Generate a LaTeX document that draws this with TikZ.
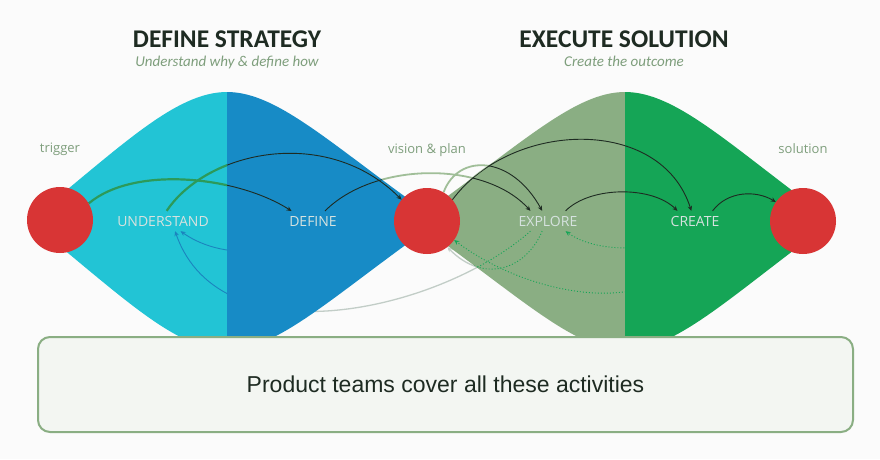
\documentclass[tikz,border=0pt]{standalone}
\usepackage{fontspec}
\setmainfont{Open Sans}
\newfontfamily\headfont{Carlito}
\newfontfamily\boxfont{Liberation Sans}
\usetikzlibrary{arrows.meta,positioning}
\definecolor{pdbg}{HTML}{FBFBFB}
\definecolor{pdcyan}{HTML}{22C4D5}
\definecolor{pdblue}{HTML}{178BC6}
\definecolor{pdsage}{HTML}{8AAE83}
\definecolor{pdgreen}{HTML}{15A556}
\definecolor{pdred}{HTML}{D83535}
\definecolor{pddark}{HTML}{1E2B22}
\definecolor{pdmuted}{HTML}{7E9E7C}
\definecolor{pdlabel}{HTML}{D6E2DF}
\definecolor{pdpale}{HTML}{C2CDC7}
\definecolor{pdtrail}{HTML}{A0BE98}
\definecolor{pdflow}{HTML}{2C9A5A}
\definecolor{pdback}{HTML}{1B84BE}
\definecolor{pdsoft}{HTML}{F3F6F2}
\pgfdeclarelayer{backdrop}
\pgfdeclarelayer{pale}
\pgfdeclarelayer{fills}
\pgfdeclarelayer{flows}
\pgfsetlayers{backdrop,pale,fills,flows,main}
% the two halves of a phase lens, centred at x = #1, tip #2 away
\newcommand\halfleft[2]{({#1-#2},221) .. controls ({#1-107},147.5) and ({#1-52},92) .. (#1,92)
  -- (#1,350) .. controls ({#1-52},350) and ({#1-107},294.5) .. ({#1-#2},221) -- cycle}
\newcommand\halfright[2]{(#1,92) .. controls ({#1+52},92) and ({#1+107},147.5) .. ({#1+#2},221)
  .. controls ({#1+107},294.5) and ({#1+52},350) .. (#1,350) -- cycle}
% forward and backward flows, drawn with the current fwd / bck styles
\newcommand\forwardflows{%
  \draw[fwd] (trig.30) .. controls +(45,-38) and +(-55,-35) .. (def.155);
  \draw[fwd] (und.70) .. controls +(40,-60) and +(-75,-75) .. (vis.140);
  \draw[fwd] (def.40) .. controls +(50,-50) and +(-45,-50) .. (exp.150);
  \draw[fwd] (vis.60) .. controls +(15,-40) and +(-30,-55) .. (exp.120);
  \draw[fwd] (vis.40) .. controls +(60,-80) and +(-30,-95) .. (cre.110);
  \draw[fwd] (exp.30) .. controls +(25,-25) and +(-25,-25) .. (cre.150);
  \draw[fwd] (cre.30) .. controls +(15,-20) and +(-20,-12) .. (sol.145);
}
\newcommand\backflows{%
  \draw[bck] (def.210) .. controls +(-25,28) and +(35,25) .. (und.-30);
  \draw[bck] (exp.-150) .. controls +(-90,80) and +(45,130) .. (und.-40);
  \draw[bck] (exp.-120) .. controls +(-17,40) and +(35,36) .. (vis.-52);
  \draw[bck] (cre.-150) .. controls +(-20,22) and +(30,22) .. (exp.-30);
  \draw[bck] (cre.-120) .. controls +(-5,88) and +(86,65) .. (vis.-35);
}

\begin{document}
\begin{tikzpicture}[x=1pt, y=-1pt,
  dot/.style={circle, fill=pdred, minimum size=66pt, inner sep=0pt},
  act/.style={font=\fontsize{14}{16}\selectfont, text=pdlabel, inner sep=1pt, outer sep=4pt},
  note/.style={font=\fontsize{13}{15}\selectfont, text=pdmuted, inner sep=0pt,
               text height=9.5pt, text depth=3pt},
  head/.style={font=\headfont\bfseries\fontsize{25.5}{30}\selectfont, text=pddark, inner sep=0pt},
  sub/.style={font=\headfont\itshape\fontsize{15}{18}\selectfont, text=pdmuted, inner sep=0pt},
  team/.style={rectangle, rounded corners=12pt, draw=pdsage, line width=2pt, fill=pdsoft,
               minimum width=815pt, minimum height=95pt, font=\boxfont\fontsize{23}{27}\selectfont,
               text=pddark},
  tip/.style={-{Stealth[length=5pt,width=4.5pt]}}
]
\useasboundingbox (0,0) rectangle (880,459);

% headings
\node[head, anchor=base] (strat) at (227,47.5) {DEFINE STRATEGY};
\node[sub, below=8pt of strat] (stratsub) {Understand why \& define how};
\node[head, anchor=base] (exec) at (624,47.5) {EXECUTE SOLUTION};
\node[sub, below=8pt of exec] (execsub) {Create the outcome};

% milestones and activities
\node[dot] (trig) at (60,220) {};
\node[dot] (vis) at (427,221) {};
\node[dot] (sol) at (803,221) {};
\node[note, above=31pt of trig] {trigger};
\node[note, above=31pt of vis] {vision \& plan};
\node[note, above=31pt of sol] {solution};

\node[act] (und) at (163,221) {UNDERSTAND};
\node[act] (def) at (313,221) {DEFINE};
\node[act] (exp) at (548,221) {EXPLORE};
\node[act] (cre) at (695,221) {CREATE};

\node[team] (teams) at (445.5,384.5) {Product teams cover all these activities};

\begin{pgfonlayer}{backdrop}
  \fill[pdbg] (0,0) rectangle (880,459);
\end{pgfonlayer}

% flows as seen on the white ground
\begin{pgfonlayer}{pale}
  \begin{scope}[fwd/.style={tip, draw=pdtrail, line width=1.8pt},
                bck/.style={tip, draw=pdpale, line width=1.3pt}]
    \forwardflows
    \backflows
  \end{scope}
\end{pgfonlayer}

\begin{pgfonlayer}{fills}
  \fill[pdcyan] \halfleft{227}{198};
  \fill[pdblue] \halfright{227}{212};
  \fill[pdsage] \halfleft{625}{212};
  \fill[pdgreen] \halfright{625}{208};
\end{pgfonlayer}

\begin{pgfonlayer}{flows}
  % dark forward flows over the blue and the whole right lens
  \begin{scope}
    \clip \halfright{227}{212} \halfleft{625}{212} \halfright{625}{208};
    \begin{scope}[fwd/.style={tip, draw=pddark, line width=0.9pt}]
      \forwardflows
    \end{scope}
  \end{scope}
  % flows over the cyan half
  \begin{scope}
    \clip \halfleft{227}{198};
    \begin{scope}[fwd/.style={tip, draw=pdflow, line width=2.2pt},
                  bck/.style={tip, draw=pdback, line width=0.9pt}]
      \forwardflows
      \backflows
    \end{scope}
  \end{scope}
  % dotted return flows over the sage half
  \begin{scope}
    \clip \halfleft{625}{212};
    \begin{scope}[bck/.style={tip, draw=pdgreen, line width=0.9pt, dash pattern=on 1pt off 2pt}]
      \backflows
    \end{scope}
  \end{scope}
\end{pgfonlayer}
\end{tikzpicture}
\end{document}
